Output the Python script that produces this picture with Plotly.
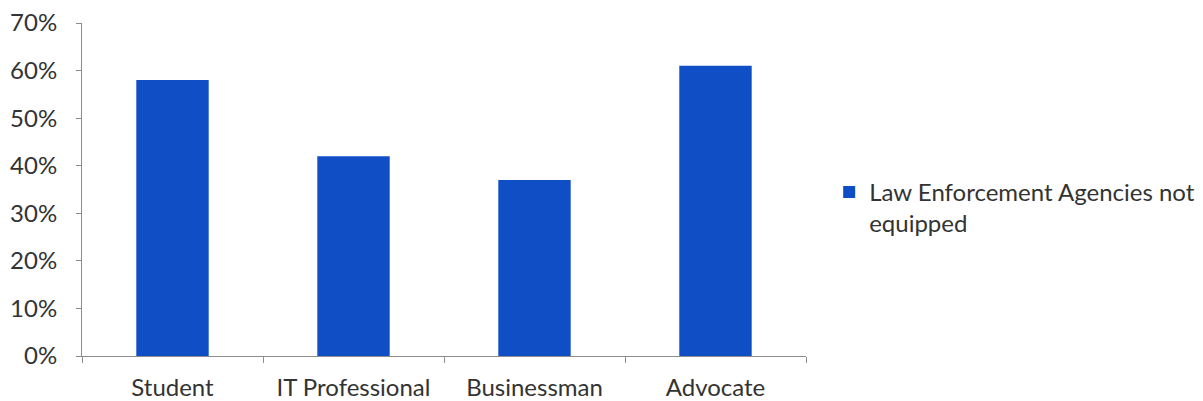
import plotly.graph_objects as go

categories = ["Student", "IT Professional", "Businessman", "Advocate"]
values = [0.58, 0.42, 0.37, 0.61]
series_name = "Law Enforcement Agencies not<br>equipped"

fig = go.Figure()
fig.add_trace(go.Bar(
    x=categories, y=values, name=series_name,
    marker=dict(color="#104ec6", line=dict(width=0)),
    showlegend=True,
))

font_family = "Lato, 'Open Sans', sans-serif"
text_color = "#333333"
axis_color = "#8c8c8c"
fig.update_layout(
    width=1195, height=393,
    margin=dict(l=74, r=397, t=15, b=45, autoexpand=False),
    paper_bgcolor="white", plot_bgcolor="white",
    bargap=0.6,
    font=dict(family=font_family, size=24, color=text_color),
    showlegend=True,
    legend=dict(x=1.032, y=0.445, xanchor="left", yanchor="middle",
                valign="top",
                font=dict(size=24, color=text_color),
                tracegroupgap=0),
    xaxis=dict(showline=True, linecolor=axis_color, linewidth=1,
               ticks="outside", tickson="boundaries", ticklen=6,
               tickcolor=axis_color, showgrid=False,
               ticklabelstandoff=10,
               tickfont=dict(size=24, color=text_color)),
    yaxis=dict(range=[0, 0.7], dtick=0.1, tickformat=".0%",
               showline=True, linecolor=axis_color, linewidth=1,
               ticks="outside", ticklen=5, tickcolor=axis_color,
               showgrid=False, zeroline=False,
               ticklabelstandoff=14, ticklabeloverflow="allow",
               tickfont=dict(size=24, color=text_color)),
)

fig.write_html("out.html")
